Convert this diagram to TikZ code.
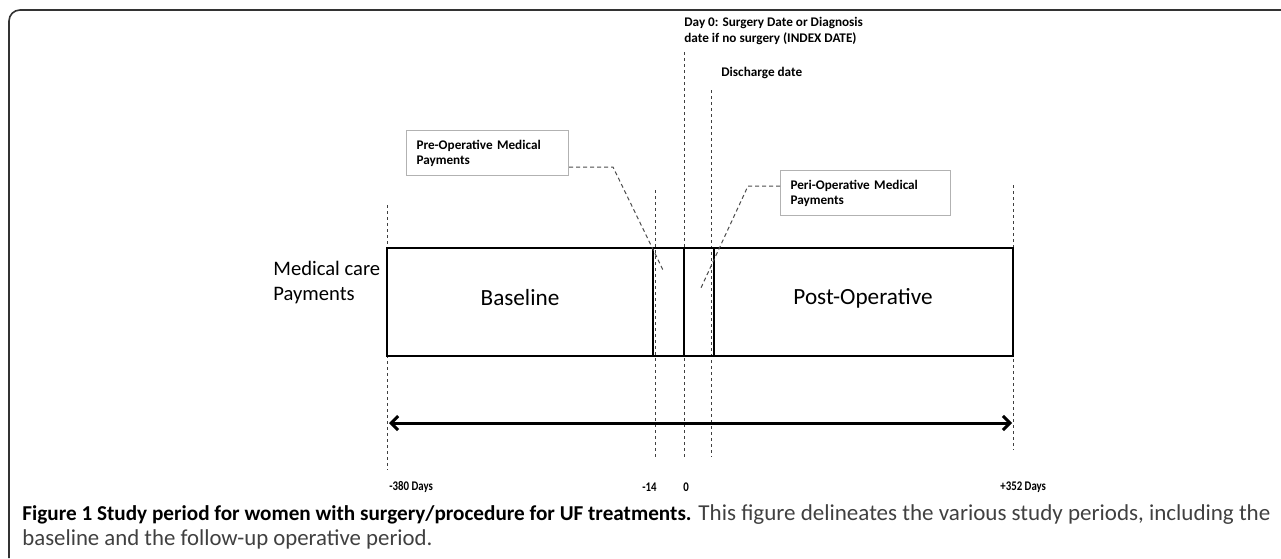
\documentclass[tikz,border=0pt]{standalone}
\usepackage{fontspec}
\setmainfont{Carlito}
\usetikzlibrary{arrows.meta, positioning}

\begin{document}
\begin{tikzpicture}[x=0.5pt, y=-0.5pt,
  frame/.style={line width=0.8pt, black!80, rounded corners=5.5pt},
  period/.style={line width=1.4pt},
  marker/.style={dash pattern=on 1.5pt off 1.5pt, line width=0.5pt, black!75},
  leader/.style={dash pattern=on 2pt off 1.5pt, line width=0.5pt, black!70},
  labelbox/.style={draw=black!30, line width=0.5pt, minimum width=81pt, minimum height=22.5pt,
    inner xsep=5pt, inner ysep=0pt, text width=71pt, align=left, anchor=north west,
    font=\fontsize{6.6}{7.5}\selectfont\bfseries},
  note/.style={font=\fontsize{6.6}{8}\selectfont\bfseries, inner sep=0pt, align=left},
  daylabel/.style={font=\fontsize{6.6}{8}\selectfont\bfseries, inner sep=0pt},
  span/.style={line width=1.5pt, {Straight Barb[length=3.5pt, width=7pt]}-{Straight Barb[length=3.5pt, width=7pt]}}
]
\useasboundingbox (0,0) rectangle (1281,558);

% cadre
\draw[frame] (9,558) -- (9,10) -- (1281,10);

% lignes de repere (pointillés)
\coordinate (M1top) at (387,205);  \coordinate (M1bot) at (387,470);
\coordinate (M2top) at (655,190);  \coordinate (M2bot) at (655,457);
\coordinate (M3top) at (684,52);   \coordinate (M3bot) at (684,457);
\coordinate (M4top) at (711,90);   \coordinate (M4bot) at (711,457);
\coordinate (M5top) at (1013,185); \coordinate (M5bot) at (1013,450);
\foreach \m in {M1,M2,M3,M4,M5}
  \draw[marker] (\m top) -- (\m bot);

% bande des périodes
\coordinate (A) at (387,248);
\coordinate (B) at (1013,356);
\draw[period] (A) rectangle (B);
\foreach \x in {653,684,714}
  \draw[period] (\x,248) -- (\x,356);

\node[font=\fontsize{10.3}{12.5}\selectfont, align=left, anchor=west, inner sep=0pt] (care) at (273,283) {Medical care\\Payments};
\node[font=\fontsize{11.6}{14}\selectfont] (base) at (520,298) {Baseline};
\node[font=\fontsize{11.6}{14}\selectfont] (post) at (863,298) {Post-Operative};

% étiquettes du haut
\node[note, anchor=north west] (day0) at (684,17) {Day 0: Surgery Date or Diagnosis\\date if no surgery (INDEX DATE)};
\node[note, anchor=west] (disch) at (721,73) {Discharge date};

\node[labelbox] (pre) at (406,130) {Pre-Operative Medical\\Payments};
\node[labelbox, minimum width=85pt, text width=75pt] (peri) at (780,170) {Peri-Operative Medical\\Payments};

\coordinate (preknee) at (613,167);
\coordinate (preend) at (663,270);
\draw[leader] (pre.east |- preknee) -- (preknee) -- (preend);
\coordinate (periknee) at (748,186);
\coordinate (periend) at (700,290);
\draw[leader] (peri.west |- periknee) -- (periknee) -- (periend);

% axe du temps
\coordinate (tl) at (389,423);
\coordinate (tr) at (1012,423);
\draw[span] (tl) -- (tr);

\node[daylabel, anchor=west] (d380) at (389,487) {\scalebox{0.82}[1]{-380 Days}};
\node[daylabel, anchor=west] (d14) at (642,487) {\scalebox{0.82}[1]{-14}};
\node[daylabel, anchor=west] (d0) at (683,487) {\scalebox{0.82}[1]{0}};
\node[daylabel, anchor=west] (d352) at (1000,487) {\scalebox{0.82}[1]{+352 Days}};

% légende
\node[anchor=north west, inner sep=0pt, align=left, font=\fontsize{11.4}{12.5}\selectfont, text=black!75] (caption) at (22,504)
  {{\fontsize{10.6}{12.5}\selectfont\color{black}\bfseries Figure 1 Study period for women with surgery/procedure for UF treatments.}
   \scalebox{1.01}[1]{This figure delineates the various study periods, including the}\\
   baseline and the follow-up operative period.};
\end{tikzpicture}
\end{document}
